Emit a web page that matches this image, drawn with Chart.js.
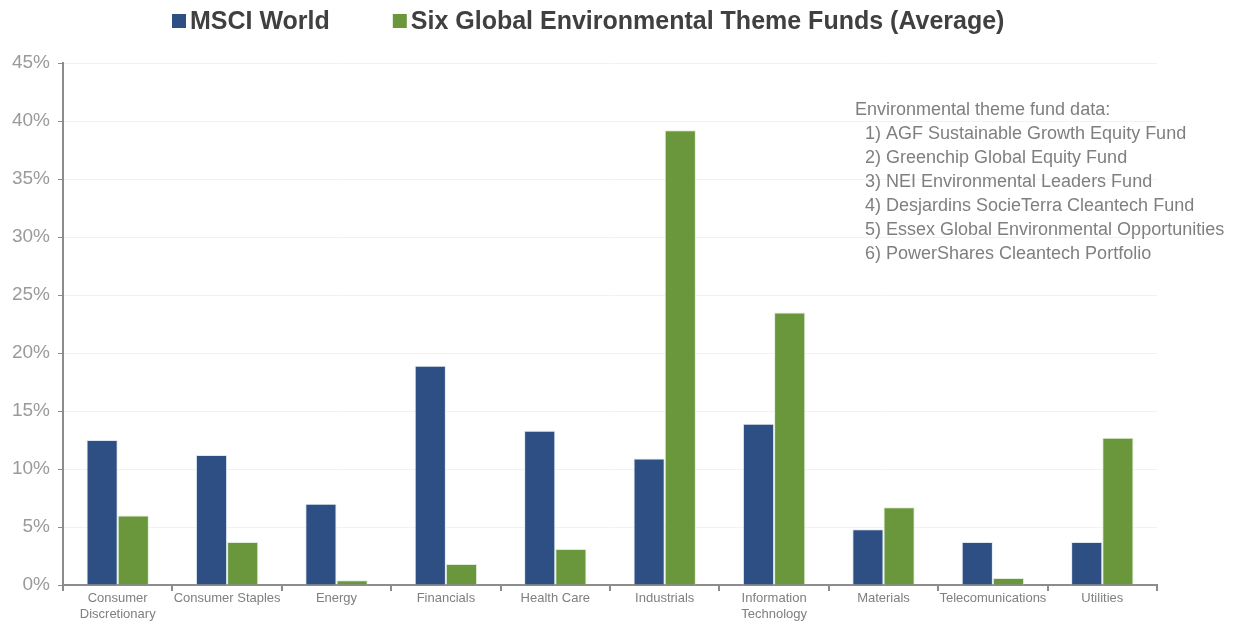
<!DOCTYPE html>
<html>
<head>
<meta charset="utf-8">
<script src="https://cdn.jsdelivr.net/npm/chart.js@4"></script>
<style>
  html, body { margin: 0; padding: 0; background: #fff; }
  #wrap { width: 1253px; height: 621px; }
</style>
</head>
<body>
<div id="wrap"><canvas id="chart" width="1253" height="621"></canvas></div>
<script>
// Sector weights (%)
const sectors = [
  ['Consumer', 'Discretionary'], 'Consumer Staples', 'Energy', 'Financials', 'Health Care',
  'Industrials', ['Information', 'Technology'], 'Materials', 'Telecomunications', 'Utilities'
];
const msciWorld = [12.5, 11.2, 7.0, 18.9, 13.3, 10.9, 13.9, 4.8, 3.7, 3.7];
const themeFunds = [6.0, 3.7, 0.4, 1.8, 3.1, 39.2, 23.5, 6.7, 0.6, 12.7];
const seriesNames = ['MSCI World', 'Six Global Environmental Theme Funds (Average)'];
const yTicks = [0, 5, 10, 15, 20, 25, 30, 35, 40, 45];
const noteLines = [
  'Environmental theme fund data:',
  '  1) AGF Sustainable Growth Equity Fund',
  '  2) Greenchip Global Equity Fund',
  '  3) NEI Environmental Leaders Fund',
  '  4) Desjardins SocieTerra Cleantech Fund',
  '  5) Essex Global Environmental Opportunities',
  '  6) PowerShares Cleantech Portfolio'
];

const BLUE = '#2e4f84';
const GREEN = '#6a973c';
const FONT = "'Liberation Sans', Arial, sans-serif";

// hand-drawn legend + note box (text only)
const overlay = {
  id: 'overlay',
  afterDraw(chart) {
    const ctx = chart.ctx;
    ctx.save();
    // legend
    ctx.font = 'bold 25px ' + FONT;
    ctx.textBaseline = 'middle';
    const colors = [BLUE, GREEN];
    let x = 172;
    const y = 21;
    seriesNames.forEach((name, i) => {
      ctx.fillStyle = colors[i];
      ctx.fillRect(x, y - 7, 14, 14);
      ctx.fillStyle = '#404040';
      ctx.fillText(name, x + 18, y + 1);
      x += 18 + ctx.measureText(name).width + 63;
    });
    // note box
    ctx.font = '18px ' + FONT;
    ctx.fillStyle = '#7f7f7f';
    ctx.textBaseline = 'alphabetic';
    noteLines.forEach((line, i) => {
      ctx.fillText(line, 855, 115 + i * 24);
    });
    ctx.restore();
  }
};

new Chart(document.getElementById('chart'), {
  type: 'bar',
  data: {
    labels: sectors,
    datasets: [
      {
        label: seriesNames[0],
        data: msciWorld,
        backgroundColor: BLUE,
        borderColor: 'rgba(220,230,240,0.9)',
        borderWidth: 1
      },
      {
        label: seriesNames[1],
        data: themeFunds,
        backgroundColor: GREEN,
        borderColor: 'rgba(220,235,210,0.9)',
        borderWidth: 1
      }
    ]
  },
  options: {
    responsive: false,
    animation: false,
    devicePixelRatio: 1,
    layout: { padding: { top: 63, right: 96, left: 0, bottom: 0 } },
    datasets: { bar: { categoryPercentage: 0.57, barPercentage: 1 } },
    plugins: {
      legend: { display: false },
      tooltip: { enabled: false }
    },
    scales: {
      x: {
        grid: { drawOnChartArea: false, tickColor: '#8c8c8c', tickLength: 6, lineWidth: 2 },
        border: { color: '#8c8c8c', width: 2 },
        ticks: {
          color: '#7f7f7f',
          font: { family: FONT, size: 13 },
          padding: 0,
          maxRotation: 0,
          autoSkip: false
        },
        afterFit: s => { s.height = 36; }
      },
      y: {
        min: 0,
        max: 45,
        afterBuildTicks: s => { s.ticks = yTicks.map(v => ({ value: v })); },
        grid: { color: '#f2f2f2', tickColor: '#8c8c8c', tickLength: 5, lineWidth: 1 },
        border: { color: '#8c8c8c', width: 2 },
        ticks: {
          color: '#9a9a9a',
          font: { family: FONT, size: 19 },
          padding: 8,
          callback: v => v + '%'
        },
        afterFit: s => { s.width = 63; }
      }
    }
  },
  plugins: [overlay]
});
</script>
</body>
</html>
